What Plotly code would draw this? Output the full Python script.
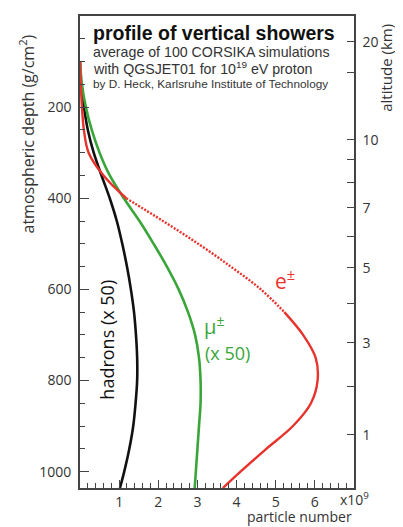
import math
import plotly.graph_objects as go

# ---------------- data ----------------
depth = [100, 150, 200, 250, 300, 350, 400, 450, 500, 550, 600, 650, 700,
         750, 800, 850, 900, 950, 1000, 1036]
hadrons_x50 = [0.0, 0.02, 0.1, 0.2, 0.35, 0.55, 0.76, 0.94, 1.08, 1.2, 1.3,
               1.38, 1.43, 1.46, 1.46, 1.42, 1.36, 1.26, 1.13, 1.02]
muons_x50 = [0.0, 0.05, 0.15, 0.3, 0.5, 0.76, 1.12, 1.52, 1.88, 2.22, 2.52,
             2.76, 2.94, 3.04, 3.08, 3.08, 3.04, 3.0, 2.96, 2.93]
electrons = [0.0, 0.02, 0.05, 0.1, 0.22, 0.6, 1.18, 2.12, 3.02, 3.85, 4.62,
             5.22, 5.7, 6.02, 6.07, 5.9, 5.44, 4.76, 4.1, 3.65]

x_tick_vals = [1, 2, 3, 4, 5, 6]
x_minor_vals = [i / 5 for i in range(1, 35) if i % 5 != 0]
depth_tick_vals = [200, 400, 600, 800, 1000]
alt_labeled = [20, 10, 7, 5, 3, 1]
alt_minor = [15, 9, 8, 6, 4, 2]


def depth_of_altitude(h_km):
    """US standard atmosphere (Linsley parameterisation), g/cm^2."""
    h = h_km * 1e5
    if h < 4e5:
        a, b, c = -186.555305, 1222.6562, 994186.38
    elif h < 10e5:
        a, b, c = -94.919, 1144.9069, 878153.55
    elif h < 40e5:
        a, b, c = 0.61289, 1305.5948, 636143.04
    else:
        a, b, c = 0.0, 540.1778, 772170.16
    return a + b * math.exp(-h / c)


# ---------------- geometry helpers ----------------
OFF = 8                      # page body margin
W, H = 403 - OFF, 527 - OFF
L, R, T, B = 80 - OFF, 354 - OFF, 14 - OFF, 488 - OFF


def px(x):
    return (x - OFF - L) / (R - L)


def py(y):
    return (B - (y - OFF)) / (B - T)


RED = "#e8322c"
GREEN = "#3aa63a"
BLACK = "#111111"
AX = "#444444"
TXT = "#333333"
NUMFONT = "Open Sans"

fig = go.Figure()

fig.add_trace(go.Scatter(x=hadrons_x50, y=depth, mode="lines",
                         line=dict(color=BLACK, width=2.6, shape="spline"),
                         showlegend=False, hoverinfo="skip"))
fig.add_trace(go.Scatter(x=muons_x50, y=depth, mode="lines",
                         line=dict(color=GREEN, width=2.6, shape="spline"),
                         showlegend=False, hoverinfo="skip"))

# electrons: dotted where the curve is shallow, solid elsewhere
i1 = depth.index(400)
i2 = depth.index(650)
fig.add_trace(go.Scatter(x=electrons[:i1 + 1], y=depth[:i1 + 1], mode="lines",
                         line=dict(color=RED, width=2.4, shape="spline"),
                         showlegend=False, hoverinfo="skip"))
fig.add_trace(go.Scatter(x=electrons[i1:i2 + 1], y=depth[i1:i2 + 1], mode="lines",
                         line=dict(color=RED, width=2.4, shape="spline",
                                   dash="2px,1.5px"),
                         showlegend=False, hoverinfo="skip"))
fig.add_trace(go.Scatter(x=electrons[i2:], y=depth[i2:], mode="lines",
                         line=dict(color=RED, width=2.4, shape="spline"),
                         showlegend=False, hoverinfo="skip"))

# invisible trace on the right axis so that it is drawn
fig.add_trace(go.Scatter(x=[None], y=[None], yaxis="y2", showlegend=False,
                         hoverinfo="skip"))

alt_major_depth = [depth_of_altitude(h) for h in alt_labeled]
alt_minor_depth = [depth_of_altitude(h) for h in alt_minor]

fig.update_layout(
    width=W, height=H,
    margin=dict(l=L, r=W - R, t=T, b=H - B),
    paper_bgcolor="white", plot_bgcolor="white",
    xaxis=dict(range=[0, 7], showgrid=False, zeroline=False,
               showline=True, linecolor=AX, linewidth=1.6, mirror=True,
               ticks="inside", ticklen=8, tickwidth=1.4, tickcolor=AX,
               tickvals=x_tick_vals, ticktext=[str(v) for v in x_tick_vals],
               tickfont=dict(family=NUMFONT, size=14, color=TXT),
               minor=dict(tickvals=x_minor_vals, ticks="inside", ticklen=5,
                          tickwidth=1.2, tickcolor=AX, showgrid=False)),
    yaxis=dict(range=[1036, 0], showgrid=False, zeroline=False,
               showline=True, linecolor=AX, linewidth=1.6,
               ticks="inside", ticklen=9, tickwidth=1.3, tickcolor=AX,
               tickvals=depth_tick_vals,
               ticktext=[str(v) for v in depth_tick_vals],
               ticklabelstandoff=4,
               tickfont=dict(family=NUMFONT, size=14, color=TXT),
               minor=dict(dtick=50, tick0=0, ticks="inside", ticklen=5,
                          tickwidth=1.1, tickcolor=AX, showgrid=False)),
    yaxis2=dict(range=[1036, 0], overlaying="y", side="right",
                showgrid=False, zeroline=False,
                showline=True, linecolor=AX, linewidth=1.6,
                ticks="inside", ticklen=7, tickwidth=1.3, tickcolor=AX,
                tickvals=alt_major_depth,
                ticktext=[str(v) for v in alt_labeled],
                ticklabelstandoff=4,
                tickfont=dict(family=NUMFONT, size=14, color=TXT),
                minor=dict(tickvals=alt_minor_depth, ticks="inside", ticklen=7,
                           tickwidth=1.3, tickcolor=AX, showgrid=False)),
)

ann = []


def text(x, y, s, size, color=TXT, family="Liberation Sans", angle=0,
         xanchor="left", yanchor="middle"):
    ann.append(dict(x=px(x), y=py(y), xref="paper", yref="paper", text=s,
                    showarrow=False,
                    font=dict(size=size, color=color, family=family),
                    textangle=angle, xanchor=xanchor, yanchor=yanchor))


# title block (reference-pixel positions)
text(91, 31, "<b>profile of vertical showers</b>", 19.5, color="#111111")
text(91, 50, "average of 100 CORSIKA simulations", 14.2)
text(91, 66, "with QGSJET01 for 10<sup>19</sup> eV proton", 14.2)
text(91, 82, "by D. Heck, Karlsruhe Institute of Technology", 11.8)

# axis titles
text(28, 133, "atmospheric depth (g/cm<sup>2</sup>)", 16, family=NUMFONT,
     angle=-90, xanchor="center")
text(386, 66, "altitude (km)", 15, family=NUMFONT, angle=-90,
     xanchor="center")
text(299, 517, "particle number", 14, family=NUMFONT, xanchor="center")
text(354, 499, "x10<sup>9</sup>", 14, family=NUMFONT, xanchor="center")

# curve labels
text(285, 279, "e<sup>±</sup>", 21, color=RED, family=NUMFONT,
     xanchor="center")
text(214, 325, "μ<sup>±</sup>", 20, color=GREEN, family=NUMFONT,
     xanchor="center")
text(227, 352, "(x 50)", 18, color=GREEN, family=NUMFONT, xanchor="center")
text(107, 339, "hadrons (x 50)", 18, color=BLACK, family=NUMFONT,
     angle=-90, xanchor="center")

fig.update_layout(annotations=ann)
fig.write_html("out.html")
